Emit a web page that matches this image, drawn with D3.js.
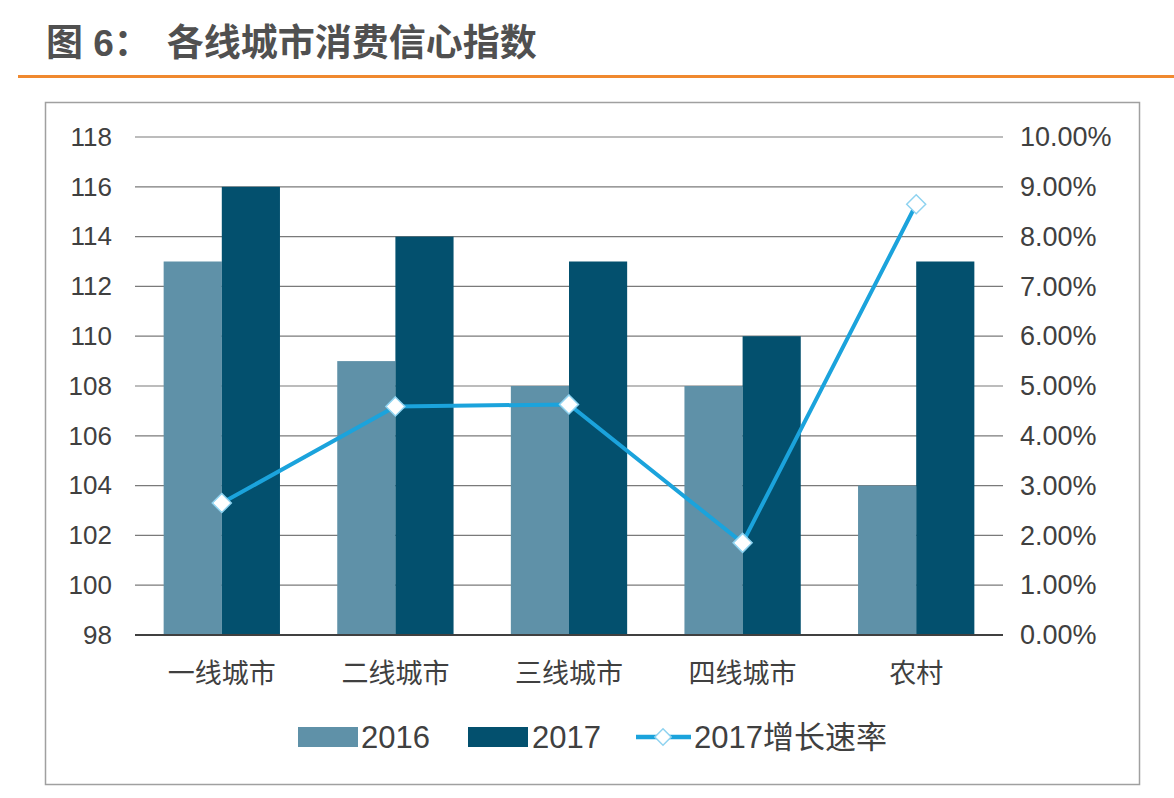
<!DOCTYPE html>
<html>
<head>
<meta charset="utf-8">
<script src="https://cdn.jsdelivr.net/npm/d3@7"></script>
<style>
  body { margin: 0; background: #fff; }
  text { font-family: "Liberation Sans", Arial, "Noto Sans CJK SC", sans-serif; }
</style>
</head>
<body>
<svg id="screen"></svg>
<script>
// data
const categories = ['一线城市', '二线城市', '三线城市', '四线城市', '农村']
const values2016 = [113, 109, 108, 108, 104]
const values2017 = [116, 114, 113, 110, 113]
const growth2017 = [0.0265, 0.0459, 0.0463, 0.0185, 0.0865]
const leftTicks = [98, 100, 102, 104, 106, 108, 110, 112, 114, 116, 118]
const rightTicks = [0, 0.01, 0.02, 0.03, 0.04, 0.05, 0.06, 0.07, 0.08, 0.09, 0.10]
const seriesNames = ['2016', '2017', '2017增长速率']

const color2016 = '#5f91a8'
const color2017 = '#03506e'
const colorLine = '#1ba3dc'

let svg = d3.select('#screen').attr('width', 1174).attr('height', 798)

// title + orange rule
let title = svg.append('text')
   .attr('x', 46).attr('y', 56)
   .attr('font-family', '"Noto Sans CJK SC", sans-serif')
   .attr('font-size', 37).attr('font-weight', 'bold')
   .attr('fill', '#505050')
title.append('tspan').text('图 6：')
title.append('tspan').attr('dx', 16).text('各线城市消费信心指数')

svg.append('rect')
   .attr('x', 18).attr('y', 75).attr('width', 1156).attr('height', 3)
   .attr('fill', '#f0892f')

// chart frame
svg.append('rect')
   .attr('x', 45.5).attr('y', 102.5).attr('width', 1094).attr('height', 682)
   .attr('fill', 'none').attr('stroke', '#a0a0a0').attr('stroke-width', 1.5)

let plot = {left: 135, right: 1003, top: 137, bottom: 635}

let x = d3.scaleBand().domain(categories).range([plot.left, plot.right]).paddingInner(0.33).paddingOuter(0.165)
let xInner = d3.scaleBand().domain(['2016', '2017']).range([0, x.bandwidth()])
let yLeft = d3.scaleLinear().domain([98, 118]).range([plot.bottom, plot.top])
let yRight = d3.scaleLinear().domain([0, 0.10]).range([plot.bottom, plot.top])

// gridlines
svg.append('g').selectAll('line')
   .data(leftTicks.slice(1))
   .enter().append('line')
   .attr('x1', plot.left).attr('x2', plot.right)
   .attr('y1', d => yLeft(d)).attr('y2', d => yLeft(d))
   .attr('stroke', '#7a7a7a').attr('stroke-width', 1.2)

// left axis labels
let leftAxis = svg.append('g')
   .attr('transform', 'translate(' + plot.left + ',0)')
   .call(d3.axisLeft(yLeft).tickValues(leftTicks).tickSize(0).tickPadding(23))
leftAxis.select('.domain').remove()
leftAxis.selectAll('text').attr('font-size', 26).attr('fill', '#404040')
        .attr('font-family', '"Liberation Sans", Arial, sans-serif')

// right axis labels
let rightAxis = svg.append('g')
   .attr('transform', 'translate(' + plot.right + ',0)')
   .call(d3.axisRight(yRight).tickValues(rightTicks).tickSize(0).tickPadding(17)
           .tickFormat(d => (d * 100).toFixed(2) + '%'))
rightAxis.select('.domain').remove()
rightAxis.selectAll('text').attr('font-size', 27).attr('fill', '#404040')
         .attr('font-family', '"Liberation Sans", Arial, sans-serif')

// bars
let groups = svg.append('g').selectAll('g')
   .data(categories)
   .enter().append('g')
   .attr('transform', d => 'translate(' + x(d) + ',0)')

groups.append('rect')
   .attr('x', xInner('2016')).attr('width', xInner.bandwidth())
   .attr('y', (d, i) => yLeft(values2016[i]))
   .attr('height', (d, i) => yLeft(98) - yLeft(values2016[i]))
   .attr('fill', color2016)

groups.append('rect')
   .attr('x', xInner('2017')).attr('width', xInner.bandwidth())
   .attr('y', (d, i) => yLeft(values2017[i]))
   .attr('height', (d, i) => yLeft(98) - yLeft(values2017[i]))
   .attr('fill', color2017)

// baseline
svg.append('line')
   .attr('x1', plot.left).attr('x2', plot.right)
   .attr('y1', plot.bottom).attr('y2', plot.bottom)
   .attr('stroke', '#404040').attr('stroke-width', 2)

// category labels
svg.append('g').selectAll('text')
   .data(categories)
   .enter().append('text')
   .attr('x', d => x(d) + x.bandwidth() / 2)
   .attr('y', 683)
   .attr('text-anchor', 'middle')
   .attr('font-family', '"Noto Sans CJK SC", sans-serif')
   .attr('font-size', 27).attr('fill', '#404040')
   .text(d => d)

// growth line
let lineGen = d3.line()
   .x((d, i) => x(categories[i]) + x.bandwidth() / 2)
   .y(d => yRight(d))

svg.append('path')
   .datum(growth2017)
   .attr('d', lineGen)
   .attr('fill', 'none').attr('stroke', colorLine).attr('stroke-width', 4)

let diamond = d3.symbol().type(d3.symbolDiamond2).size(230)
svg.append('g').selectAll('path')
   .data(growth2017)
   .enter().append('path')
   .attr('d', diamond)
   .attr('transform', (d, i) => 'translate(' + (x(categories[i]) + x.bandwidth() / 2) + ',' + yRight(d) + ')')
   .attr('fill', '#fff').attr('stroke', '#8fd3f0').attr('stroke-width', 1.5)

// legend
let legend = svg.append('g')
legend.append('rect').attr('x', 298).attr('y', 727).attr('width', 60).attr('height', 20).attr('fill', color2016)
legend.append('text').attr('x', 361).attr('y', 748).attr('font-size', 31).attr('fill', '#404040').text(seriesNames[0])
legend.append('rect').attr('x', 468).attr('y', 727).attr('width', 60).attr('height', 20).attr('fill', color2017)
legend.append('text').attr('x', 532).attr('y', 748).attr('font-size', 31).attr('fill', '#404040').text(seriesNames[1])
legend.append('line').attr('x1', 636).attr('x2', 691).attr('y1', 737).attr('y2', 737)
      .attr('stroke', colorLine).attr('stroke-width', 4.5)
legend.append('path').attr('d', d3.symbol().type(d3.symbolDiamond2).size(170))
      .attr('transform', 'translate(663,737)')
      .attr('fill', '#fff').attr('stroke', '#8fd3f0').attr('stroke-width', 1.5)
legend.append('text').attr('x', 694).attr('y', 748).attr('font-size', 31).attr('fill', '#404040')
      .attr('font-family', '"Liberation Sans", Arial, "Noto Sans CJK SC", sans-serif')
      .text(seriesNames[2])
</script>
</body>
</html>
